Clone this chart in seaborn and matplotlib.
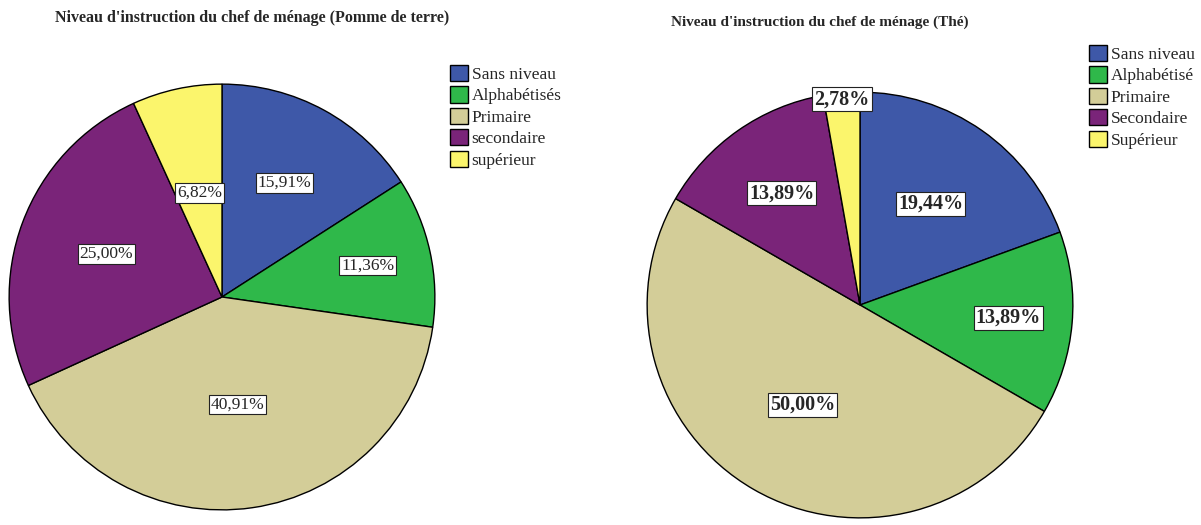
import numpy as np
import seaborn as sns
import matplotlib.pyplot as plt

sns.set_theme(style="white")
plt.rcParams["font.family"] = ["Liberation Serif", "DejaVu Serif"]

colors = ["#3e58a8", "#2fb84a", "#d3cd98", "#7a2479", "#fbf56c"]

labels_pdt = ["Sans niveau", "Alphabétisés", "Primaire", "secondaire", "supérieur"]
values_pdt = [15.91, 11.36, 40.91, 25.00, 6.82]
dist_pdt = [0.61, 0.70, 0.51, 0.58, 0.50]

labels_the = ["Sans niveau", "Alphabétisé", "Primaire", "Secondaire", "Supérieur"]
values_the = [19.44, 13.89, 50.00, 13.89, 2.78]
dist_the = [0.58, 0.70, 0.54, 0.64, 0.97]

W, H = 1201, 525
fig = plt.figure(figsize=(W / 100, H / 100), dpi=100)


def px_axes(cx, cy, r):
    return fig.add_axes([(cx - r) / W, (H - cy - r) / H, 2 * r / W, 2 * r / H])


def draw_pie(ax, values, dists, fsize, weight):
    wedges, _ = ax.pie(values, colors=colors, startangle=90, counterclock=False,
                       radius=1, wedgeprops=dict(edgecolor="black", linewidth=1))
    for w, v, d in zip(wedges, values, dists):
        ang = np.deg2rad((w.theta1 + w.theta2) / 2)
        ax.text(d * np.cos(ang), d * np.sin(ang), f"{v:.2f}%".replace(".", ","),
                ha="center", va="center", fontsize=fsize, fontweight=weight,
                bbox=dict(boxstyle="square,pad=0.1", fc="white", ec="#222222", lw=0.8))
    ax.set_xlim(-1.01, 1.01)
    ax.set_ylim(-1.01, 1.01)
    ax.set_aspect("equal")
    ax.axis("off")
    return wedges


ax1 = px_axes(222, 297, 215)
w1 = draw_pie(ax1, values_pdt, dist_pdt, 12.5, "normal")
ax2 = px_axes(860, 305, 215)
w2 = draw_pie(ax2, values_the, dist_the, 14.5, "bold")

fig.text(252 / W, 1 - 18 / H, "Niveau d'instruction du chef de ménage (Pomme de terre)",
         ha="center", va="center", fontsize=11.5, fontweight="bold")
fig.text(820 / W, 1 - 22 / H, "Niveau d'instruction du chef de ménage (Thé)",
         ha="center", va="center", fontsize=11, fontweight="bold")

leg_kw = dict(loc="upper left", frameon=False, fontsize=12.5, handlelength=1.05,
              handleheight=1.05, handletextpad=0.2, labelspacing=0.2, borderpad=0,
              borderaxespad=0)
fig.legend(w1, labels_pdt, bbox_to_anchor=(450 / W, 1 - 65 / H), **leg_kw)
fig.legend(w2, labels_the, bbox_to_anchor=(1089 / W, 1 - 45 / H), **leg_kw)

fig.savefig("out.png", dpi=100)
